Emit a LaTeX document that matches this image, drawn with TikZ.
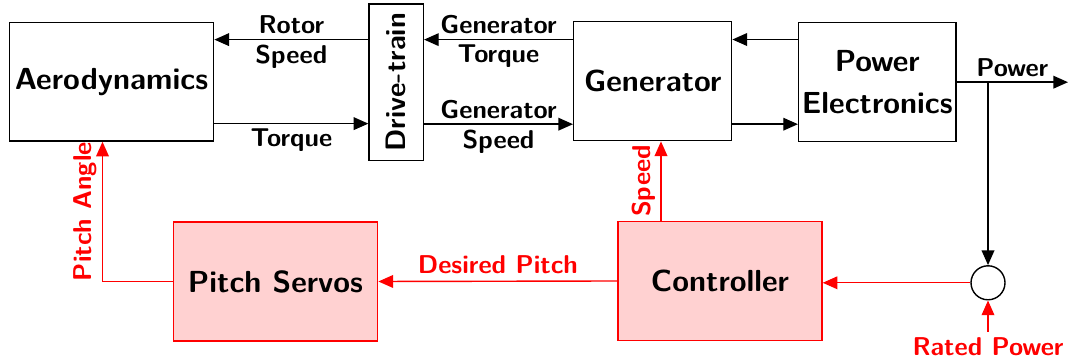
\documentclass[tikz,border=0pt]{standalone}
\usepackage{amsmath}
\usepackage{tikz}
\usetikzlibrary{arrows.meta,positioning}
\tikzset{
	block/.style={draw, semithick, font=\sffamily\bfseries\fontsize{13}{18}\selectfont, align=center, inner sep=0pt},
	ctrl block/.style={block, draw=red, fill=red!18},
	signal/.style={semithick, -{Triangle[length=0.22cm,width=0.19cm]}},
	ctrl signal/.style={signal, red},
	sig label/.style={font=\sffamily\bfseries\fontsize{11}{13}\selectfont, inner sep=2pt},
}
\begin{document}
\begin{tikzpicture}[x=0.015cm, y=-0.015cm]
	\useasboundingbox (0,0) rectangle (1068,362);
	\node[block, minimum width=3.066cm, minimum height=1.78cm] (aero) at (111.5,81.7) {Aerodynamics};
	\node[block, minimum width=0.815cm, minimum height=2.35cm, font=\sffamily\bfseries\fontsize{12}{14}\selectfont] (drive) at (396.2,82.3) {\rotatebox{90}{Drive-train}};
	\node[block, minimum width=2.37cm, minimum height=1.79cm] (gen) at (652.7,81) {Generator};
	\node[block, minimum width=2.36cm, minimum height=1.785cm] (pe) at (877.3,82.2) {Power\\Electronics};
	\node[ctrl block, minimum width=3.066cm, minimum height=1.79cm] (servo) at (275.5,281.5) {Pitch Servos};
	\node[ctrl block, minimum width=3.06cm, minimum height=1.785cm] (ctrl) at (720,281) {Controller};
	\node[draw, semithick, circle, minimum size=0.51cm, inner sep=0pt] (sum) at (988,282.8) {};
	\coordinate (out) at (1068,82.2);
	\coordinate (ref) at (988,332);
	\path
	(drive.west) ++(0,0.64cm) coordinate (d-1)
	(drive.west) ++(0,-0.62cm) coordinate (d-2)
	(pe.west) ++(0,0.64cm) coordinate (p-1)
	(pe.west) ++(0,-0.63cm) coordinate (p-2);
	\draw[signal] (d-1) -- (d-1 -| aero.east) node[midway, above, sig label] {Rotor} node[midway, below, sig label] {Speed};
	\draw[signal] (d-2 -| aero.east) -- (d-2) node[midway, below, sig label] {Torque};
	\draw[signal] (d-1 -| gen.west) -- (d-1 -| drive.east) node[midway, above, sig label] {Generator} node[midway, below, sig label] {Torque};
	\draw[signal] (p-2 -| drive.east) -- (p-2 -| gen.west) node[midway, above, sig label] {Generator} node[midway, below, sig label] {Speed};
	\draw[signal] (p-1) -- (p-1 -| gen.east);
	\draw[signal] (p-2 -| gen.east) -- (p-2);
	\draw[signal] (pe.east) -- (out) node[midway, above, sig label] {Power};
	\draw[signal] (sum.north |- pe.east) -- (sum.north);
	\draw[ctrl signal] (ref) node[below, sig label, red] {Rated Power} -- (sum.south);
	\draw[ctrl signal] (sum.west) -- (sum.west -| ctrl.east);
	\draw[ctrl signal] (ctrl.west) -- (servo.east) node[midway, above=1pt, sig label, red] {Desired Pitch};
	\draw[ctrl signal] (servo.west) -| ([xshift=-0.135cm]aero.south) node[pos=0.75, sloped, above, sig label, red] {Pitch Angle};
	\draw[ctrl signal] ([xshift=-0.885cm]ctrl.north) -- ([xshift=-0.885cm]ctrl.north |- gen.south) node[midway, sloped, above, sig label, red] {Speed};
\end{tikzpicture}
\end{document}
